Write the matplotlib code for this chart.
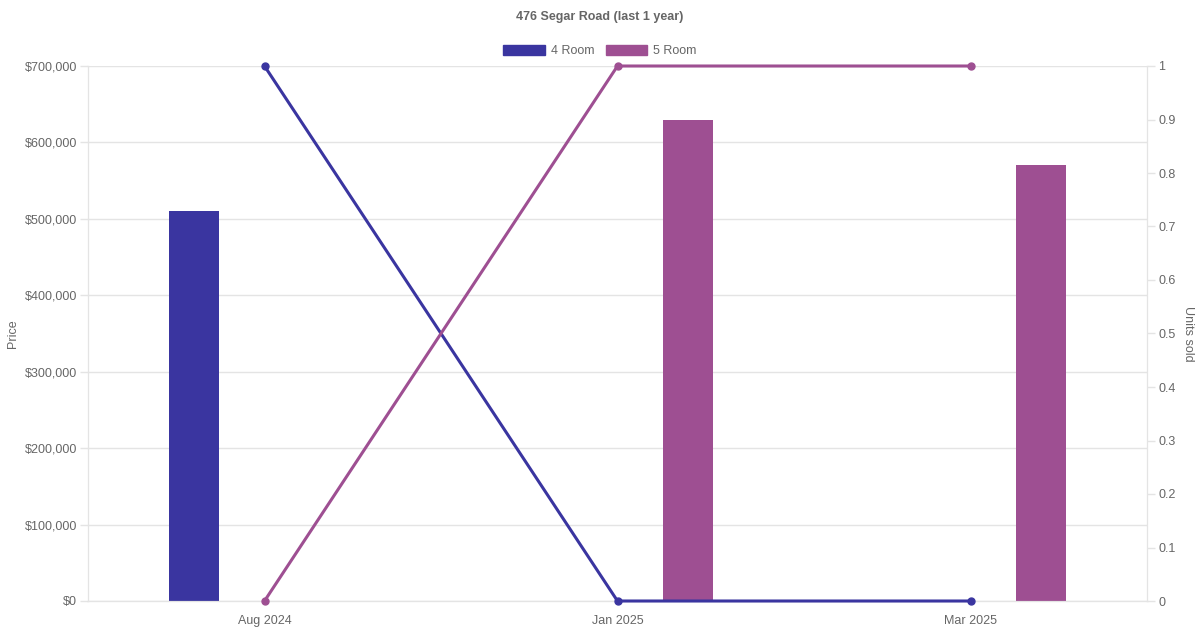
import matplotlib
matplotlib.use("Agg")
import matplotlib.pyplot as plt
from matplotlib.patches import Patch
from matplotlib.ticker import FuncFormatter, MultipleLocator
import numpy as np

plt.rcParams['font.family'] = ['Liberation Sans', 'DejaVu Sans']

# Données du graphique
months = ["Aug 2024", "Jan 2025", "Mar 2025"]
price_4room = [510000, None, None]
price_5room = [None, 630000, 570000]
units_4room = [1, 0, 0]
units_5room = [0, 1, 1]

col_4 = "#3a35a0"
col_5 = "#9e4f92"
txt = "#666666"
grid = "#e4e4e4"

fig = plt.figure(figsize=(12, 6.3), dpi=100)
ax = fig.add_axes([88 / 1200, 29 / 630, 1059 / 1200, 535 / 630])
ax2 = ax.twinx()

x = np.arange(len(months))
off = 0.2
w = 50 / 353

# Barres (prix)
for i in x:
    if price_4room[i] is not None:
        ax.bar(i - off, price_4room[i], width=w, color=col_4, zorder=2)
    if price_5room[i] is not None:
        ax.bar(i + off, price_5room[i], width=w, color=col_5, zorder=2)

# Lignes (unités vendues)
ax2.plot(x, units_4room, color=col_4, lw=2.2, marker='o', ms=5, zorder=3, clip_on=False)
ax2.plot(x, units_5room, color=col_5, lw=2.2, marker='o', ms=5, zorder=3, clip_on=False)

ax.set_xlim(-0.5, 2.5)
ax.set_ylim(0, 700000)
ax2.set_ylim(0, 1)
ax.yaxis.set_major_locator(MultipleLocator(100000))
ax.yaxis.set_major_formatter(FuncFormatter(lambda v, p: f"${v:,.0f}"))
ax2.yaxis.set_major_locator(MultipleLocator(0.1))
ax2.yaxis.set_major_formatter(FuncFormatter(lambda v, p: "0" if v == 0 else ("1" if abs(v - 1) < 1e-9 else f"{v:.1f}")))

ax.set_xticks(x)
ax.set_xticklabels(months)
ax.grid(axis='y', color=grid, lw=1, zorder=0)
ax.set_axisbelow(True)

for a in (ax, ax2):
    for s in a.spines.values():
        s.set_color(grid)
    a.spines['top'].set_visible(False)
    a.tick_params(colors=txt, labelsize=9, length=6, width=1)
    a.tick_params(axis='y', color=grid)
ax.spines['bottom'].set_color("#cccccc")
ax.tick_params(axis='x', length=0, pad=10)
ax.tick_params(axis='y', pad=2)
ax2.tick_params(axis='y', pad=2)

ax.set_ylabel("Price", color=txt, fontsize=9, labelpad=4)
ax2.set_ylabel("Units sold", color=txt, fontsize=9, rotation=-90, labelpad=13)

fig.text(0.5, 1 - 17 / 630, "476 Segar Road (last 1 year)", ha='center', va='center',
         fontsize=9, fontweight='bold', color=txt)

handles = [Patch(color=col_4, label="4 Room"), Patch(color=col_5, label="5 Room")]
leg = fig.legend(handles=handles, loc='center', bbox_to_anchor=(0.5, 1 - 51 / 630), ncol=2,
                 frameon=False, fontsize=9, handlelength=3.3, handleheight=0.9,
                 columnspacing=0.9, handletextpad=0.5)
for t in leg.get_texts():
    t.set_color(txt)

fig.savefig("out.png", dpi=100)
